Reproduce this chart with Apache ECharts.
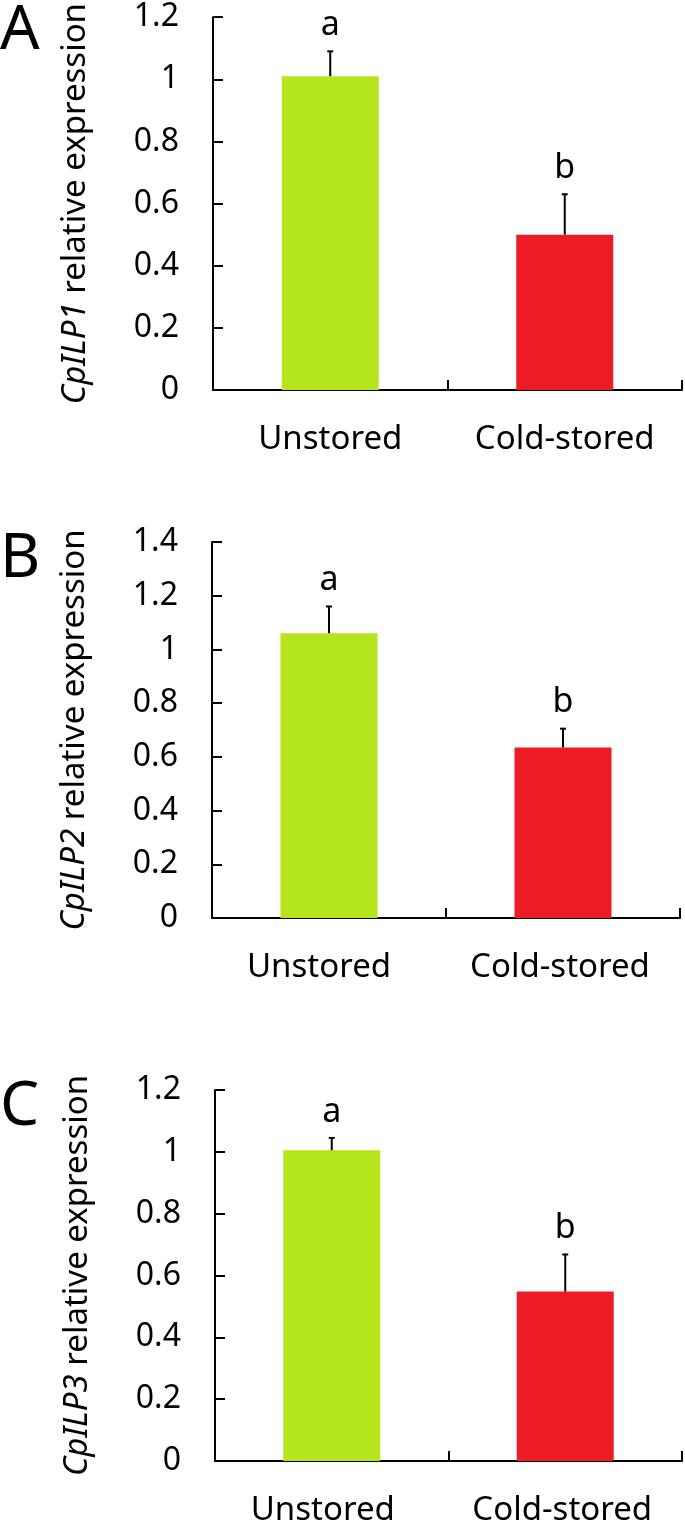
<!DOCTYPE html>
<html>
<head>
<meta charset="utf-8">
<script src="https://cdn.jsdelivr.net/npm/echarts@6/dist/echarts.min.js"></script>
<style>
html,body{margin:0;padding:0;background:#fff;}
#chart{width:685px;height:1527px;}
</style>
</head>
<body>
<div id="chart"></div>
<script>
// ---- data ----
var categories = ['Unstored', 'Cold-stored'];
var genes = ['CpILP1', 'CpILP2', 'CpILP3'];
var panelLetters = ['A', 'B', 'C'];
var meansA = [1.01, 0.50];
var errsA = [0.08, 0.13];
var meansB = [1.06, 0.635];
var errsB = [0.10, 0.07];
var meansC = [1.005, 0.548];
var errsC = [0.04, 0.12];
var sigLetters = ['a', 'b'];
var yMaxA = 1.2, yMaxB = 1.4, yMaxC = 1.2;
var yInterval = 0.2;

var barColors = ['#B5E61D', '#ED1C24'];
var FONT = 'Noto Sans';

var panels = [
  {means: meansA, errs: errsA, ymax: yMaxA, shift: [0, 0], grid: {left: 213, right: 3, top: 14, height: 376}},
  {means: meansB, errs: errsB, ymax: yMaxB, shift: [-10, -3], grid: {left: 212, right: 5, top: 542, height: 376}},
  {means: meansC, errs: errsC, ymax: yMaxC, shift: [-9, -3], grid: {left: 215, right: 3, top: 1090, height: 376}}
];

var option = {
  animation: false,
  backgroundColor: '#fff',
  grid: [], xAxis: [], yAxis: [], series: [], graphic: []
};

panels.forEach(function (p, i) {
  var rich = {};
  categories.forEach(function (c, k) {
    var s = p.shift[k];
    rich['c' + k] = {fontSize: 33, fontFamily: FONT, color: '#000',
      padding: s < 0 ? [0, -2 * s, 0, 0] : [0, 0, 0, 2 * s]};
  });
  option.grid.push(p.grid);
  option.xAxis.push({
    type: 'category', gridIndex: i, data: categories, boundaryGap: true,
    axisLine: {lineStyle: {color: '#000', width: 2}},
    axisTick: {show: true, inside: true, length: 10, lineStyle: {color: '#000', width: 2}},
    axisLabel: {color: '#000', fontSize: 33, fontFamily: FONT, margin: 33, interval: 0, hideOverlap: false,
      formatter: function (v, idx) { return '{c' + idx + '|' + v + '}'; }, rich: rich},
    splitLine: {show: false}
  });
  option.yAxis.push({
    type: 'value', gridIndex: i, min: 0, max: p.ymax, interval: yInterval,
    axisLine: {show: true, lineStyle: {color: '#000', width: 2}},
    axisTick: {show: true, inside: true, length: 10, lineStyle: {color: '#000', width: 2}},
    axisLabel: {color: '#000', fontSize: 32, fontFamily: FONT, margin: 34},
    splitLine: {show: false},
    name: '{i|' + genes[i] + '} relative expression',
    nameLocation: 'middle', nameRotate: 90, nameGap: 121,
    nameTextStyle: {color: '#000', fontSize: 33, fontFamily: FONT,
      rich: {i: {fontStyle: 'italic', fontSize: 33, fontFamily: FONT, color: '#000'}}}
  });
  option.series.push({
    type: 'bar', xAxisIndex: i, yAxisIndex: i, barWidth: 97,
    data: p.means.map(function (v, k) { return {value: v, itemStyle: {color: barColors[k]}}; })
  });
  option.series.push({
    type: 'custom', xAxisIndex: i, yAxisIndex: i, z: 5,
    data: p.means.map(function (v, k) { return [k, v, p.errs[k]]; }),
    renderItem: function (params, api) {
      var k = api.value(0), m = api.value(1), e = api.value(2);
      var base = api.coord([k, m]);
      var top = api.coord([k, m + e]);
      var st = {stroke: '#000', lineWidth: 2};
      return {
        type: 'group',
        children: [
          {type: 'line', shape: {x1: base[0], y1: base[1], x2: top[0], y2: top[1]}, style: st},
          {type: 'line', shape: {x1: top[0] - 3, y1: top[1], x2: top[0] + 3, y2: top[1]}, style: st},
          {type: 'text', style: {text: sigLetters[k], x: top[0], y: top[1] - 26,
            align: 'center', verticalAlign: 'middle', fontSize: 34, fontFamily: FONT, fill: '#000'}}
        ]
      };
    }
  });
  option.graphic.push({
    type: 'text', left: 0, top: p.grid.top - 14,
    style: {text: panelLetters[i], fontSize: 62, fontFamily: FONT, fill: '#000'}
  });
});

var chart = echarts.init(document.getElementById('chart'), null, {renderer: 'canvas'});
chart.setOption(option);
</script>
</body>
</html>
